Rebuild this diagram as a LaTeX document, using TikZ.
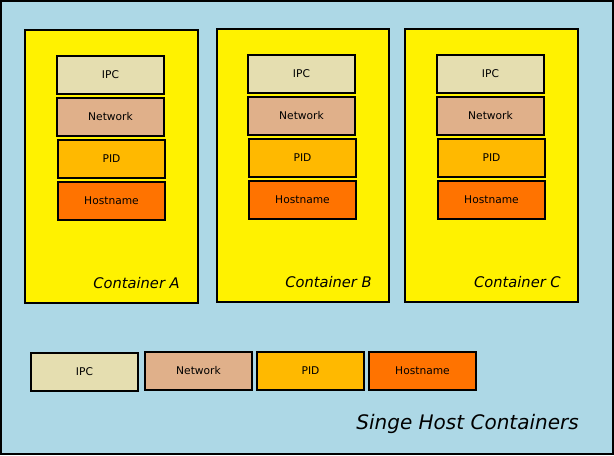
\documentclass[tikz,border=0pt]{standalone}
\usepackage{fontspec}
\setmainfont{DejaVu Sans}
\usepackage{tikz}

\definecolor{hostbg}{RGB}{173,216,230}
\definecolor{ipcfill}{RGB}{229,222,176}
\definecolor{netfill}{RGB}{224,176,138}
\definecolor{pidfill}{RGB}{255,185,0}
\definecolor{hostfill}{RGB}{255,115,0}

\tikzset{
  nsbox/.style={draw=black, line width=1.5pt, minimum width=80.25pt, minimum height=28.5pt, inner sep=0pt, font=\fontsize{8}{10}\selectfont},
  ipc/.style={nsbox, fill=ipcfill},
  net/.style={nsbox, fill=netfill},
  pid/.style={nsbox, fill=pidfill},
  host/.style={nsbox, fill=hostfill},
  cont/.style={draw=black, line width=1.5pt, fill=yellow, minimum height=204.75pt, inner sep=0pt},
  contlabel/.style={anchor=east, inner sep=0.75pt, font=\fontsize{11}{13}\selectfont\itshape}
}

\begin{document}
\begin{tikzpicture}[x=0.75pt,y=0.75pt,yscale=-1,xscale=1]
\useasboundingbox (0,0) rectangle (614,455);

%Host background
\draw [line width=1.5pt, fill=hostbg] (1,1) rectangle (613,454);

%Containers
\node [cont, minimum width=129.75pt] (contA) at (111.5,166.5) {};
\node [cont, minimum width=129pt] (contB) at (303,165.5) {};
\node [cont, minimum width=129.75pt] (contC) at (491.5,165.5) {};

%Container A namespaces
\node [ipc] (ipcA) at (110.5,75) {IPC};
\node [net] (netA) at (110.5,117) {Network};
\node [pid] (pidA) at (111.5,159) {PID};
\node [host] (hostA) at (111.5,201) {Hostname};

%Container B namespaces
\node [ipc] (ipcB) at (301.5,74) {IPC};
\node [net] (netB) at (301.5,116) {Network};
\node [pid] (pidB) at (302.5,158) {PID};
\node [host] (hostB) at (302.5,200) {Hostname};

%Container C namespaces
\node [ipc] (ipcC) at (490.5,74) {IPC};
\node [net] (netC) at (490.5,116) {Network};
\node [pid] (pidC) at (491.5,158) {PID};
\node [host] (hostC) at (491.5,200) {Hostname};

%Host namespaces
\node [ipc] (ipcH) at (84.5,372) {IPC};
\node [net] (netH) at (198.5,371) {Network};
\node [pid] (pidH) at (310.5,371) {PID};
\node [host] (hostH) at (422.5,371) {Hostname};

% Text Node
\node [contlabel] (labA) at (181,283) {Container A};
% Text Node
\node [contlabel] (labB) at (373,282) {Container B};
% Text Node
\node [contlabel] (labC) at (562,282) {Container C};
% Text Node
\node [anchor=east, inner sep=0.75pt, font=\fontsize{15}{18}\selectfont\itshape] (title) at (580,424) {Singe Host Containers};

\end{tikzpicture}
\end{document}
